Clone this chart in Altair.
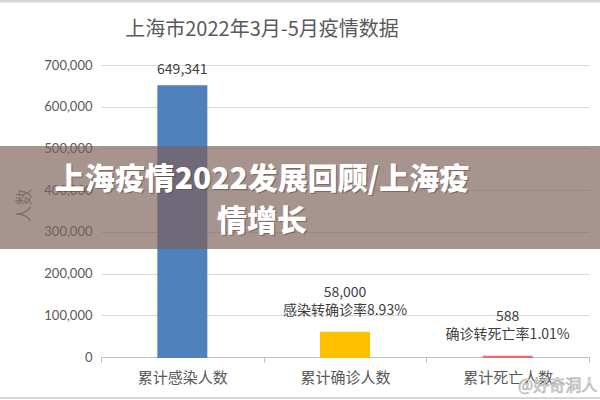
import altair as alt
import pandas as pd

categories = ["累计感染人数", "累计确诊人数", "累计死亡人数"]
values = [649341, 58000, 588]
value_labels = ["649,341", "58,000", "588"]
rate_labels = ["", "感染转确诊率8.93%", "确诊转死亡率1.01%"]
bar_colors = ["#4f81bd", "#ffc000", "#ef6b6b"]
y_ticks = [0, 100000, 200000, 300000, 400000, 500000, 600000, 700000]

title_text = "上海市2022年3月-5月疫情数据"
y_title = "人数"
banner_text = "上海疫情2022发展回顾/上海疫\n情增长"
watermark = "@好奇洞人"

df = pd.DataFrame({"cat": categories, "val": values, "vlabel": value_labels,
                   "rate": rate_labels, "color": bar_colors})

W, H = 488, 292
LEFT, TOP = 101, 65
CJK = "Noto Sans CJK SC"

x_enc = alt.X("cat:N", sort=categories, title=None,
              scale=alt.Scale(paddingInner=0, paddingOuter=0),
              axis=alt.Axis(labelFont=CJK, labelFontSize=15, labelColor="#595959",
                            labelAngle=0, labelPadding=8, tickBand="extent",
                            tickColor="#bfbfbf", tickSize=5, domainColor="#bfbfbf",
                            domainWidth=1, grid=False))
y_enc = alt.Y("val:Q", title=y_title,
              scale=alt.Scale(domain=[0, 700000], nice=False),
              axis=alt.Axis(values=y_ticks, format=",d", labelFont="Lato", labelFontSize=13,
                            labelColor="#595959", labelPadding=9, ticks=False, domain=False,
                            gridColor="#d9d9d9", gridWidth=1, titleFont=CJK,
                            titleFontSize=17, titleFontWeight="normal", titleColor="#8c8c8c",
                            titleX=-68, titleY=140, titleAngle=-90, zindex=0))

base = alt.Chart(df)

bars = base.mark_bar(size=48, strokeWidth=2).encode(
    x=x_enc, y=y_enc,
    color=alt.Color("color:N", scale=None),
    stroke=alt.Stroke("color:N", scale=None),
)

xs = alt.X("cat:N", sort=categories)

num_single = base.transform_filter("datum.rate == ''").mark_text(
    font=CJK, fontSize=14, color="#404040", baseline="bottom", dy=-9).encode(
    x=xs, y="val:Q", text="vlabel:N")

num_multi = base.transform_filter("datum.rate != ''").mark_text(
    font=CJK, fontSize=14, color="#404040", baseline="bottom", dy=-33).encode(
    x=xs, y="val:Q", text="vlabel:N")

rate_txt = base.transform_filter("datum.rate != ''").mark_text(
    font=CJK, fontSize=14, color="#404040", baseline="bottom", dy=-15).encode(
    x=xs, y="val:Q", text="rate:N")

deco = alt.Chart(pd.DataFrame({"t": [banner_text]}))

title = alt.Chart(pd.DataFrame({"t": [title_text]})).mark_text(
    font=CJK, fontSize=20, color="#595959", align="center", baseline="middle").encode(
    x=alt.value(262 - LEFT), y=alt.value(30 - TOP), text="t:N")

banner = deco.mark_rect(color="#7d5f58", opacity=0.67, clip=False).encode(
    x=alt.value(-LEFT), x2=alt.value(600 - LEFT), y=alt.value(146 - TOP), y2=alt.value(249 - TOP))

banner_shadow = deco.mark_text(font=CJK, fontSize=30, fontWeight=900, color="#4a3531",
                               opacity=0.45, lineBreak="\n", lineHeight=42, baseline="middle",
                               align="center", dx=1.2, dy=1.2).encode(
    x=alt.value(262 - LEFT), y=alt.value(180 - TOP), text="t:N")

banner_txt = deco.mark_text(font=CJK, fontSize=30, fontWeight=900, color="#ffffff",
                            lineBreak="\n", lineHeight=42, baseline="middle",
                            align="center").encode(
    x=alt.value(262 - LEFT), y=alt.value(180 - TOP), text="t:N")

wm = alt.Chart(pd.DataFrame({"t": [watermark]})).mark_text(
    font=CJK, fontSize=16, color="#f0f0f0", stroke="#a8a8a8", strokeWidth=0.6,
    align="left", baseline="middle").encode(
    x=alt.value(518 - LEFT), y=alt.value(386 - TOP), text="t:N")

border_top = deco.mark_rule(color="#d6d6d6", strokeWidth=3).encode(
    x=alt.value(-LEFT), x2=alt.value(600 - LEFT), y=alt.value(1 - TOP))
border_bot = deco.mark_rule(color="#d6d6d6", strokeWidth=2).encode(
    x=alt.value(-LEFT), x2=alt.value(600 - LEFT), y=alt.value(398 - TOP))

chart = alt.layer(bars, num_single, num_multi, rate_txt, title, banner, banner_shadow,
                  banner_txt, wm, border_top, border_bot).properties(
    width=W, height=H,
    autosize=alt.AutoSizeParams(type="none"),
    padding={"left": LEFT, "top": TOP, "right": 600 - LEFT - W, "bottom": 400 - TOP - H},
    background="#ffffff",
).configure_view(stroke=None)

chart.save("out.html", embed_options={"renderer": "svg", "actions": False})
